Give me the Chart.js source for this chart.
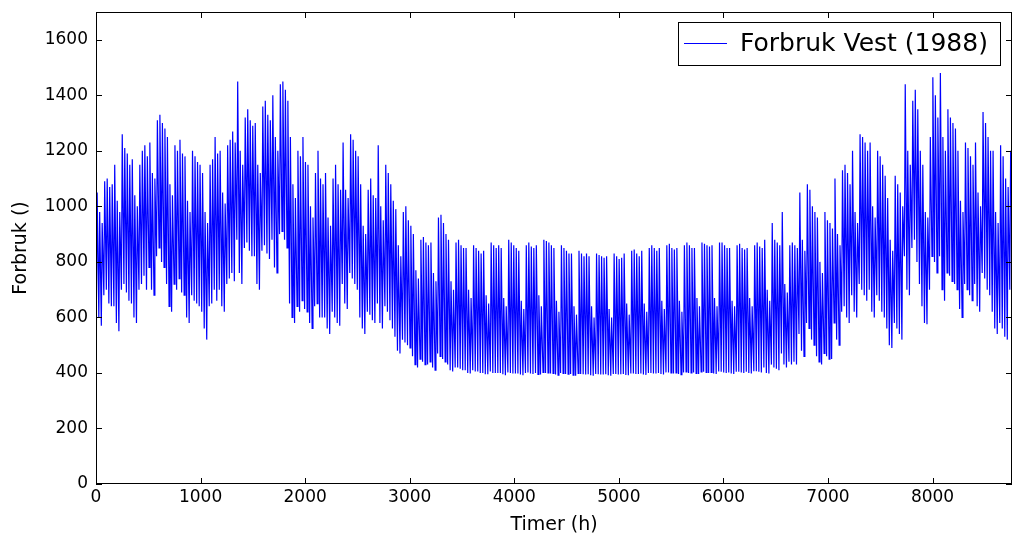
<!DOCTYPE html>
<html>
<head>
<meta charset="utf-8">
<script src="https://cdn.jsdelivr.net/npm/chart.js@4/dist/chart.umd.min.js"></script>
<style>
  html, body { margin: 0; padding: 0; background: #fff; }
  #wrap { width: 1024px; height: 549px; }
</style>
</head>
<body>
<div id="wrap"><canvas id="chart" width="1024" height="549"></canvas></div>
<script>
// daily peak and night low, one line per week (week starts on a Friday)
const dayHigh = [
  1050, 980, 940, 1090, 1100, 1070, 1080,
  1150, 1020, 980, 1260, 1210, 1190, 1150,
  1170, 1040, 1000, 1150, 1200, 1220, 1180,
  1230, 1120, 1100, 1310, 1330, 1300, 1280,
  1250, 1080, 1040, 1220, 1200, 1240, 1190,
  1180, 1020, 980, 1200, 1180, 1160, 1150,
  1120, 980, 940, 1150, 1170, 1250, 1190,
  1200, 1050, 1010, 1220, 1240, 1270, 1230,
  1450, 1200, 1150, 1320, 1350, 1310, 1290,
  1300, 1150, 1120, 1360, 1380, 1330, 1310,
  1400, 1250, 1200, 1440, 1450, 1420, 1380,
  1250, 1080, 1030, 1200, 1180, 1250, 1160,
  1150, 1000, 960, 1120, 1200, 1100, 1080,
  1120, 960, 930, 1100, 1150, 1080, 1060,
  1230, 1060, 1030, 1260, 1240, 1200, 1180,
  1080, 930, 900, 1060, 1100, 1040, 1030,
  1220, 1000, 950, 1150, 1120, 1080, 1020,
  990, 860, 820, 980, 1000, 950, 930,
  900, 770, 740, 880, 890, 870, 860,
  870, 760, 730, 960, 970, 940, 900,
  880, 730, 700, 870, 880, 860, 850,
  850, 700, 670, 860, 850, 840, 830,
  840, 680, 650, 870, 860, 850, 860,
  850, 670, 640, 880, 870, 860, 850,
  840, 660, 630, 860, 870, 855, 850,
  860, 680, 640, 880, 875, 870, 860,
  850, 660, 620, 860, 850, 840, 830,
  830, 640, 610, 840, 830, 820, 830,
  820, 640, 600, 830, 825, 820, 815,
  820, 630, 600, 830, 820, 810, 815,
  830, 650, 610, 840, 845, 830, 820,
  840, 650, 620, 850, 860, 850, 840,
  850, 660, 630, 860, 865, 850, 845,
  850, 660, 620, 860, 870, 860, 850,
  850, 670, 640, 870, 865, 860, 855,
  860, 670, 640, 870, 870, 860, 850,
  850, 660, 640, 860, 865, 850, 845,
  850, 670, 640, 860, 870, 855, 850,
  880, 700, 660, 940, 880, 870, 860,
  980, 720, 690, 860, 870, 860, 850,
  1050, 880, 840, 1080, 1060, 1000, 980,
  960, 800, 760, 980, 950, 940, 920,
  1100, 900, 860, 1130, 1150, 1120, 1080,
  1200, 980, 940, 1260, 1250, 1230, 1200,
  1230, 1000, 960, 1200, 1180, 1150, 1110,
  1030, 880, 840, 1110, 1080, 1050, 1000,
  1440, 1200, 1150, 1380, 1420, 1350, 1200,
  1150, 980, 960, 1250, 1465, 1400, 1320,
  1480, 1250, 1200, 1350, 1320, 1300, 1280,
  1200, 1020, 980, 1230, 1210, 1180, 1150,
  1230, 1050, 1000, 1340, 1300, 1250, 1200,
  1200, 980, 940, 1220, 1180, 1100, 1070,
  1200
];
const dayLow = [
  620, 600, 570, 680, 700, 650, 640,
  640, 580, 550, 700, 720, 690, 660,
  650, 600, 580, 700, 720, 750, 700,
  780, 700, 680, 820, 850, 800, 780,
  720, 640, 620, 720, 700, 740, 690,
  680, 600, 580, 680, 660, 650, 640,
  620, 560, 520, 640, 650, 700, 660,
  700, 640, 620, 720, 740, 760, 730,
  880, 760, 720, 850, 870, 840, 820,
  820, 720, 700, 840, 860, 830, 810,
  880, 780, 760, 900, 910, 880, 850,
  650, 600, 580, 640, 620, 660, 630,
  620, 580, 560, 640, 650, 600, 600,
  600, 560, 540, 620, 600, 580, 570,
  720, 650, 630, 760, 740, 720, 700,
  600, 560, 540, 620, 610, 590, 580,
  650, 580, 560, 640, 620, 590, 560,
  530, 480, 470, 520, 510, 500, 490,
  460, 430, 420, 450, 440, 430, 430,
  440, 420, 410, 470, 460, 450, 440,
  430, 410, 405, 420, 420, 415, 410,
  410, 400, 398, 410, 405, 405, 400,
  400, 395, 395, 405, 400, 400, 400,
  400, 395, 392, 402, 400, 398, 398,
  398, 394, 392, 400, 402, 398, 396,
  400, 395, 394, 402, 400, 400, 398,
  398, 394, 392, 400, 398, 396, 396,
  396, 392, 390, 398, 396, 395, 394,
  395, 392, 390, 396, 395, 394, 394,
  395, 392, 390, 396, 396, 394, 395,
  396, 393, 392, 398, 398, 396, 396,
  398, 394, 393, 400, 400, 398, 398,
  400, 396, 394, 402, 402, 400, 398,
  400, 396, 394, 402, 404, 400, 400,
  402, 398, 396, 404, 404, 402, 400,
  402, 398, 396, 405, 404, 402, 400,
  402, 398, 396, 404, 404, 402, 400,
  404, 400, 398, 406, 406, 404, 402,
  420, 400, 398, 430, 420, 415, 410,
  470, 430, 420, 440, 430, 440, 430,
  540, 480, 460, 580, 560, 520, 500,
  460, 440, 430, 470, 460, 450, 450,
  580, 520, 500, 620, 640, 600, 580,
  680, 620, 600, 720, 700, 680, 660,
  700, 620, 600, 680, 660, 620, 600,
  560, 500, 490, 580, 560, 540, 520,
  820, 700, 680, 850, 880, 800, 720,
  640, 580, 575, 700, 820, 800, 760,
  820, 700, 660, 760, 750, 730, 720,
  700, 630, 600, 720, 700, 680, 660,
  720, 640, 620, 760, 740, 700, 680,
  620, 560, 540, 580, 560, 530, 520,
  700
];
const xTicks = [0, 1000, 2000, 3000, 4000, 5000, 6000, 7000, 8000];
const yTicks = [0, 200, 400, 600, 800, 1000, 1200, 1400, 1600];
const seriesName = 'Forbruk Vest (1988)';

const FONT = 'DejaVu Sans';
const BLUE = '#0000ff';

// low in the night, peak late morning
const points = [];
dayHigh.forEach((h, d) => {
  points.push({ x: d * 24 + 3, y: dayLow[d] });
  points.push({ x: d * 24 + 11, y: h });
});

const frame = {
  id: 'frame',
  afterDraw(chart) {
    const { ctx, chartArea: a, scales } = chart;
    ctx.save();
    ctx.strokeStyle = '#000';
    ctx.lineWidth = 1;
    ctx.strokeRect(a.left + 0.5, a.top + 0.5, a.right - a.left - 1, a.bottom - a.top - 1);
    // matplotlib style inward ticks on all four sides
    const len = 6;
    ctx.beginPath();
    xTicks.forEach(v => {
      const px = Math.round(scales.x.getPixelForValue(v)) + 0.5;
      ctx.moveTo(px, a.bottom); ctx.lineTo(px, a.bottom - len);
      ctx.moveTo(px, a.top); ctx.lineTo(px, a.top + len);
    });
    yTicks.forEach(v => {
      const py = Math.round(scales.y.getPixelForValue(v)) + 0.5;
      ctx.moveTo(a.left, py); ctx.lineTo(a.left + len, py);
      ctx.moveTo(a.right, py); ctx.lineTo(a.right - len, py);
    });
    ctx.stroke();

    // legend box, top right
    const bx = 678.5, by = 22.5, bw = 322, bh = 43;
    ctx.fillStyle = '#fff';
    ctx.fillRect(bx, by, bw, bh);
    ctx.strokeRect(bx, by, bw, bh);
    ctx.strokeStyle = BLUE;
    ctx.beginPath();
    ctx.moveTo(684, 43.5); ctx.lineTo(727, 43.5);
    ctx.stroke();
    ctx.fillStyle = '#000';
    ctx.font = '25px "' + FONT + '"';
    ctx.textBaseline = 'middle';
    ctx.fillText(seriesName, 740, 44);
    ctx.restore();
  }
};

new Chart(document.getElementById('chart'), {
  type: 'line',
  data: {
    datasets: [{
      label: seriesName,
      data: points,
      borderColor: BLUE,
      borderWidth: 1.2,
      pointRadius: 0,
      tension: 0,
      fill: false
    }]
  },
  options: {
    responsive: false,
    animation: false,
    devicePixelRatio: 1,
    layout: { padding: { top: 12, right: 12, left: 0, bottom: 0 } },
    plugins: { legend: { display: false }, tooltip: { enabled: false } },
    scales: {
      x: {
        type: 'linear',
        min: 0,
        max: 8760,
        afterBuildTicks: s => { s.ticks = xTicks.map(v => ({ value: v })); },
        afterFit: s => { s.height = 65; s.paddingLeft = 0; s.paddingRight = 0; },
        ticks: { color: '#000', font: { family: FONT, size: 17 }, padding: 3, maxRotation: 0, callback: v => String(v) },
        grid: { display: false, drawTicks: false },
        border: { display: false },
        title: { display: true, text: 'Timer (h)', color: '#000', font: { family: FONT, size: 19 }, padding: { top: 0, bottom: 13 } }
      },
      y: {
        min: 0,
        max: 1700,
        afterBuildTicks: s => { s.ticks = yTicks.map(v => ({ value: v })); },
        afterFit: s => { s.width = 96; s.paddingTop = 0; s.paddingBottom = 0; },
        ticks: { color: '#000', font: { family: FONT, size: 17 }, padding: 8, callback: v => String(v) },
        grid: { display: false, drawTicks: false },
        border: { display: false },
        title: { display: true, text: 'Forbruk ()', color: '#000', font: { family: FONT, size: 19 }, padding: { top: 10, bottom: 0 } }
      }
    }
  },
  plugins: [frame]
});
</script>
</body>
</html>
